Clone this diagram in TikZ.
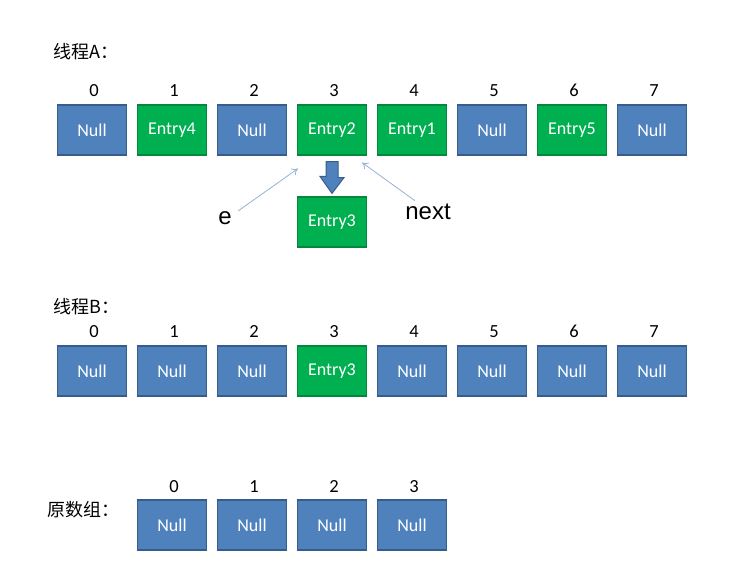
\documentclass[tikz,border=0pt]{standalone}
\usepackage{fontspec}
\setmainfont{Carlito}
\newfontfamily\cjk{Noto Sans CJK SC}
\newfontfamily\arialfont{Liberation Sans}
\usetikzlibrary{calc,arrows.meta}
\definecolor{nullblue}{HTML}{4F81BD}
\definecolor{nullline}{HTML}{385D8A}
\definecolor{entrygreen}{HTML}{00B050}
\definecolor{entryline}{HTML}{00883D}
\definecolor{pointer}{HTML}{95B3D7}
\begin{document}
\begin{tikzpicture}[x=1pt,y=-1pt,
	cell/.style={draw=nullline,line width=1.2pt,fill=nullblue,minimum width=69pt,minimum height=50pt,inner sep=0pt,text=white,font=\fontsize{18}{18}\selectfont},
	entry/.style={cell,draw=entryline,fill=entrygreen},
	idx/.style={anchor=base,inner sep=0pt,font=\fontsize{18.5}{18.5}\selectfont},
	title/.style={anchor=west,inner sep=0pt,font=\cjk\fontsize{18}{18}\selectfont},
	ptrlabel/.style={font=\arialfont\fontsize{24}{24}\selectfont},
	ptr/.style={draw=pointer,line width=0.8pt,-{To[length=6pt,width=8pt]}}]
	\useasboundingbox[fill=white] (0,0) rectangle (744,585);
	% thread A
	\node[title] (tA) at (53,52) {线程A：};
	\foreach \s/\t [count=\i from 0] in {cell/Null,entry/Entry4,cell/Null,entry/Entry2,entry/Entry1,cell/Null,entry/Entry5,cell/Null}
		\node[\s] (A\i) at (92+80*\i,130) {\t} node[idx] (nA\i) at (94+80*\i,97) {\i};
	\node[entry] (E3) at (332,222) {Entry3};
	\draw[fill=nullblue,draw=nullline,line width=1pt] ($(A3.south)+(-6,6)$) -- ++(12,0) -- ++(0,16) -- ++(6,0) -- ($(E3.north)+(0,-3)$) -- ++(-12,-17) -- ++(6,0) -- cycle;
	\node[ptrlabel] (e) at (225,218) {e};
	\node[ptrlabel] (next) at (428,212) {next};
	\draw[ptr] ($(e.north east)+(3,3)$) -- ($(A3.south west)+(1,13)$);
	\draw[ptr] ($(next.north west)+(13,0)$) -- ($(A3.south east)+(-5,7)$);
	% thread B
	\node[title] (tB) at (53,307) {线程B：};
	\foreach \s/\t [count=\i from 0] in {cell/Null,cell/Null,cell/Null,entry/Entry3,cell/Null,cell/Null,cell/Null,cell/Null}
		\node[\s] (B\i) at (92+80*\i,371) {\t} node[idx] (nB\i) at (94+80*\i,337) {\i};
	% original array
	\node[title] (tC) at (47,510) {原数组：};
	\foreach \i in {0,...,3}
		\node[cell] (C\i) at (172+80*\i,525) {Null} node[idx] (nC\i) at (174+80*\i,492) {\i};
\end{tikzpicture}
\end{document}
